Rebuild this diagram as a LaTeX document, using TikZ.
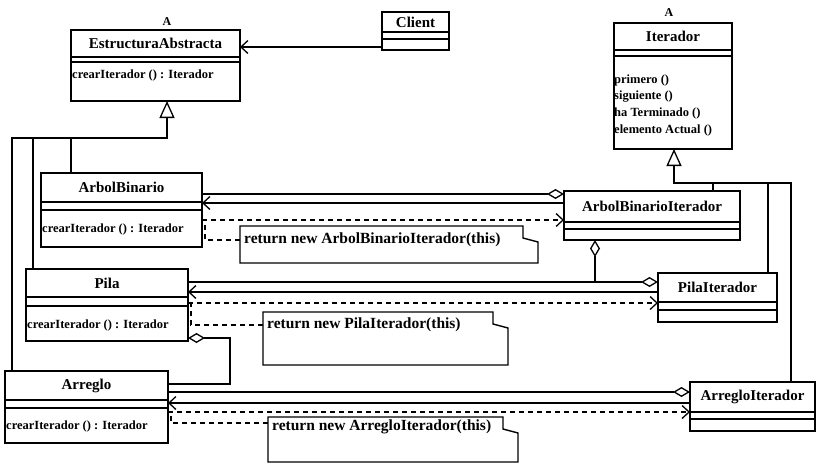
\documentclass[tikz,border=0pt]{standalone}
\usepackage{fontspec}
\setmainfont{Liberation Serif}
\usetikzlibrary{arrows.meta,calc}

\tikzset{
  classbox/.style={draw, line width=1.4pt, inner sep=0pt, outer sep=0pt, anchor=north west},
  notebox/.style={inner sep=0pt, outer sep=0pt, anchor=north west},
  ctitle/.style={font=\fontsize{15}{18}\selectfont\bfseries, inner sep=0pt},
  oper/.style={font=\fontsize{12.5}{14}\selectfont\bfseries, inner sep=0pt, anchor=west},
  iteroper/.style={font=\fontsize{12.5}{14}\selectfont\bfseries, inner sep=0pt, anchor=west},
  notetext/.style={font=\fontsize{15.5}{18}\selectfont\bfseries, inner sep=0pt, anchor=west},
  amark/.style={font=\fontsize{12}{13}\selectfont\bfseries, inner sep=0pt},
  sepline/.style={line width=1.3pt},
  assoc/.style={line width=1.3pt},
  navi/.style={assoc, -{Straight Barb[length=7pt,width=13pt,line width=1.3pt]}},
  depend/.style={assoc, dash pattern=on 5pt off 4pt, -{Straight Barb[length=7pt,width=13pt,line width=1.3pt]}},
  aggr/.style={assoc, -{Diamond[open,length=17pt,width=10pt,line width=1.3pt]}},
  gen/.style={assoc, -{Triangle[open,length=17pt,width=15pt,line width=1.3pt]}},
  notelink/.style={assoc, dash pattern=on 5pt off 4pt},
  noteline/.style={line width=1.4pt, line join=miter},
}

% class: name, x1, y1, x2, y2, first separator, second separator, title
\newcommand\umlclass[8]{%
  \node[classbox, minimum width={#4-#2}, minimum height={#5-#3}] (#1) at (#2,#3) {};
  \draw[sepline] (#2,#6) -- (#4,#6);
  \draw[sepline] (#2,#7) -- (#4,#7);
  \node[ctitle] (#1-title) at ({(#2+#4)/2},{(#3+#6)/2}) {#8};
}

% note with folded corner: name, x1, y1, x2, y2, text, text baseline row
\newcommand\umlnote[7]{%
  \node[notebox, minimum width={#4-#2}, minimum height={#5-#3}] (#1) at (#2,#3) {};
  \draw[noteline] (#1.north west) -- ([xshift=-15pt]#1.north east)
    -- ([xshift=-15pt,yshift=-12pt]#1.north east) -- ([yshift=-16pt]#1.north east)
    -- (#1.south east) -- (#1.south west) -- cycle;
  \node[notetext] (#1-text) at ({#2+4},#7) {#6};
}

\begin{document}
\begin{tikzpicture}[x=1pt, y=-1pt]
\useasboundingbox (0,0) rectangle (816,464);

% classes
\umlclass{ea}{71}{30}{240}{101}{57}{62}{EstructuraAbstracta}
\umlclass{cl}{382}{12}{449}{50}{32}{39}{Client}
\umlclass{it}{614}{23}{732}{149}{50}{56}{Iterador}
\umlclass{ab}{41}{173}{202}{247}{202}{210}{ArbolBinario}
\umlclass{abi}{564}{191}{740}{240}{222}{229}{ArbolBinarioIterador}
\umlclass{pl}{26}{269}{188}{341}{297}{306}{Pila}
\umlclass{pi}{658}{273}{777}{322}{302}{310}{PilaIterador}
\umlclass{ar}{5}{371}{168}{443}{400}{408}{Arreglo}
\umlclass{ai}{690}{382}{815}{431}{412}{419}{ArregloIterador}

% abstract markers
\node[amark] (ea-abs) at (167,22) {A};
\node[amark] (it-abs) at (669,13) {A};

% operations
\node[oper] (ea-op) at (72,75) {crearIterador () : Iterador};
\node[oper] (ab-op) at (42,229) {crearIterador () : Iterador};
\node[oper] (pl-op) at (27,325) {crearIterador () : Iterador};
\node[oper] (ar-op) at (6,426) {crearIterador () : Iterador};
\node[iteroper] (it-op1) at (614,80) {primero ()};
\node[iteroper] (it-op2) at (614,97) {siguiente ()};
\node[iteroper] (it-op3) at (614,113) {ha Terminado ()};
\node[iteroper] (it-op4) at (614,130) {elemento Actual ()};

% notes
\umlnote{n1}{240}{226}{538}{263}{return new ArbolBinarioIterador(this)}{240}
\umlnote{n2}{263}{312}{508}{365}{return new PilaIterador(this)}{325}
\umlnote{n3}{268}{417}{518}{462}{return new ArregloIterador(this)}{427}

% row levels of the connectors
\coordinate (rc) at (0,47);
\coordinate (ra1) at (0,194);
\coordinate (ra2) at (0,203);
\coordinate (ra3) at (0,220);
\coordinate (ra4) at (0,240);
\coordinate (rp1) at (0,282);
\coordinate (rp2) at (0,292);
\coordinate (rp3) at (0,303);
\coordinate (rp4) at (0,325);
\coordinate (rr1) at (0,392);
\coordinate (rr2) at (0,403);
\coordinate (rr3) at (0,412);
\coordinate (rr4) at (0,423);
\coordinate (rr0) at (0,384);
\coordinate (eabus) at (167,138);
\coordinate (itbus) at (674,183);
\coordinate (pjoin) at (595,282);
\coordinate (pabend) at (230,338);

% Client -> EstructuraAbstracta
\draw[navi] (cl.west |- rc) -- (ea.east |- rc);

% generalization to EstructuraAbstracta
\draw[gen] ([xshift=7pt]ar.north west) |- (eabus) -- (ea.south -| eabus);
\draw[assoc] ([xshift=7pt]pl.north west) |- (eabus);
\draw[assoc] ([xshift=30pt]ab.north west) |- (eabus);

% generalization to Iterador
\draw[gen] ([xshift=101pt]ai.north west) |- (itbus) -- (it.south -| itbus);
\draw[assoc] ([xshift=149pt]abi.north west) |- (itbus);
\draw[assoc] ([xshift=110pt]pi.north west) |- (itbus);

% ArbolBinario <-> ArbolBinarioIterador
\draw[aggr] (ab.east |- ra1) -- (abi.west |- ra1);
\draw[navi] (abi.west |- ra2) -- (ab.east |- ra2);
\draw[depend] (ab.east |- ra3) -- (abi.west |- ra3);
\draw[notelink] (n1.west |- ra4) -- ([xshift=3pt]ab.east |- ra4) -- ([xshift=3pt]ab.east |- ra3);

% ArbolBinarioIterador uses Pila
\draw[aggr] (pjoin) -- (abi.south -| pjoin);

% Pila <-> PilaIterador
\draw[aggr] (pl.east |- rp1) -- (pi.west |- rp1);
\draw[navi] (pi.west |- rp2) -- (pl.east |- rp2);
\draw[depend] (pl.east |- rp3) -- (pi.west |- rp3);
\draw[notelink] (n2.west |- rp4) -- ([xshift=3pt]pl.east |- rp4) -- ([xshift=3pt]pl.east |- rp3);

% Pila holds an Arreglo
\draw[aggr] (ar.east |- rr0) -| (pabend) -- (pl.east |- pabend);

% Arreglo <-> ArregloIterador
\draw[aggr] (ar.east |- rr1) -- (ai.west |- rr1);
\draw[navi] (ai.west |- rr2) -- (ar.east |- rr2);
\draw[depend] (ar.east |- rr3) -- (ai.west |- rr3);
\draw[notelink] (n3.west |- rr4) -- ([xshift=3pt]ar.east |- rr4) -- ([xshift=3pt]ar.east |- rr3);

\end{tikzpicture}
\end{document}
